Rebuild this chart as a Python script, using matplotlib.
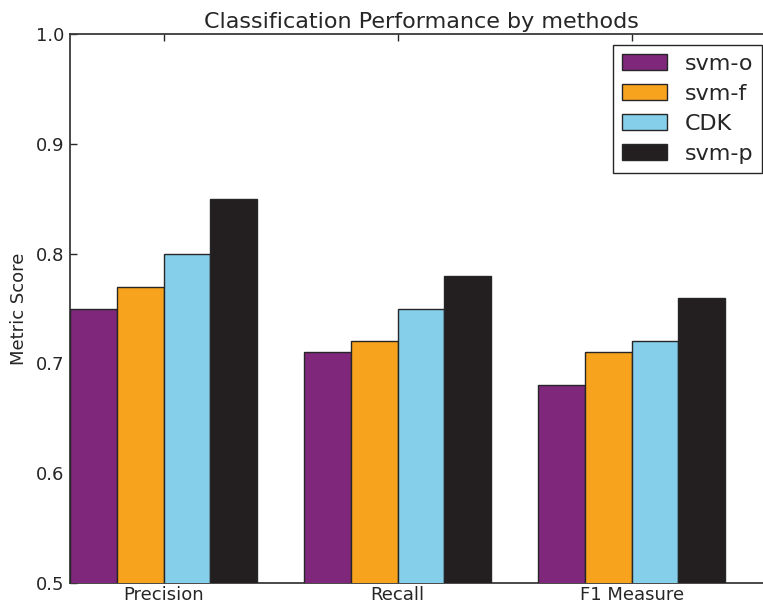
import matplotlib
matplotlib.use("Agg")
import matplotlib.pyplot as plt
import numpy as np

categories = ["Precision", "Recall", "F1 Measure"]
methods = ["svm-o", "svm-f", "CDK", "svm-p"]
svm_o = [0.75, 0.71, 0.68]
svm_f = [0.77, 0.72, 0.71]
cdk = [0.80, 0.75, 0.72]
svm_p = [0.85, 0.78, 0.76]
colors = ["#7E277B", "#F8A31E", "#86CFEB", "#231F20"]
yticks = [0.5, 0.6, 0.7, 0.8, 0.9, 1.0]

text_color = "#262626"
plt.rcParams["font.family"] = "DejaVu Sans"

fig = plt.figure(figsize=(7.63, 6.05), dpi=100)
ax = fig.add_axes([70 / 763, 22 / 605, 702 / 763, 549 / 605])

width = 0.2
ind = np.arange(len(categories))
series = [svm_o, svm_f, cdk, svm_p]
for k, (vals, col, name) in enumerate(zip(series, colors, methods)):
    ax.bar(ind + k * width, vals, width, color=col, edgecolor="#262626",
           linewidth=1.0, label=name, align="edge", zorder=3)

ax.set_xlim(0, 3)
ax.set_ylim(0.5, 1.0)
ax.set_yticks(yticks)
ax.set_yticklabels([f"{v:.1f}" for v in yticks])
ax.set_xticks(ind + 2 * width)
ax.set_xticklabels(categories)
ax.tick_params(axis="both", direction="in", length=5, width=1, color=text_color,
               labelsize=13, labelcolor=text_color, top=True, right=False)
ax.tick_params(axis="x", pad=2)
ax.tick_params(axis="y", pad=4)
for sp in ax.spines.values():
    sp.set_color("#3a3a3a")
    sp.set_linewidth(1.3)
ax.spines["right"].set_visible(False)

ax.set_ylabel("Metric Score", fontsize=13, color=text_color, labelpad=6)
ax.set_title("Classification Performance by methods", fontsize=16,
             color=text_color, pad=4.5)

leg = ax.legend(loc="upper right", bbox_to_anchor=(762 / 763, 1 - 45 / 605),
                bbox_transform=fig.transFigure, borderaxespad=0,
                fontsize=16, fancybox=False, framealpha=1, handlelength=2.0,
                handleheight=0.75, labelspacing=0.45, handletextpad=0.8,
                borderpad=0.4)
leg.get_frame().set_edgecolor("#262626")
leg.get_frame().set_linewidth(1.0)
for t in leg.get_texts():
    t.set_color(text_color)

fig.savefig("out.png", dpi=100)
